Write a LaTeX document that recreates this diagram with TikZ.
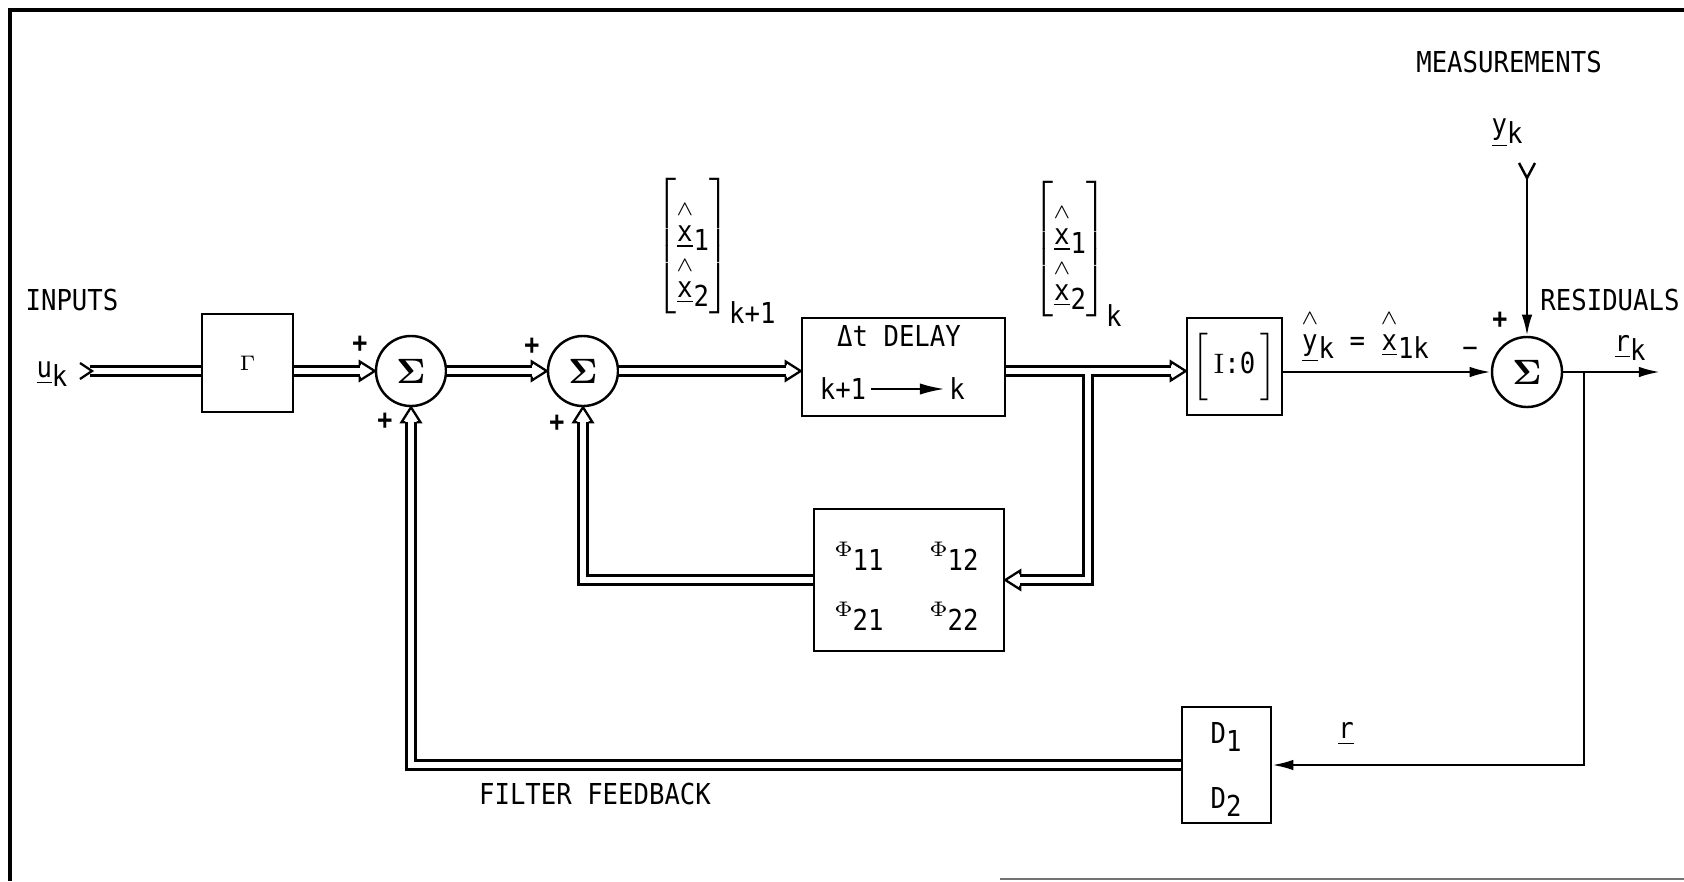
\documentclass[tikz,border=0pt]{standalone}
\usepackage{amsmath}
\usepackage[no-math]{fontspec}
\setmainfont{DejaVu Sans Mono}[FakeStretch=0.89]
\usetikzlibrary{arrows.meta,calc}
\newcommand\lo[1]{\raisebox{-0.55ex}{#1}}
\newcommand\hx[1]{$\overset{\raisebox{1.2pt}{$\scriptstyle\wedge$}}{\underline{\mbox{#1}}}$}
\newcommand\phisym{\raisebox{0.9ex}{\fontsize{6}{6}\selectfont$\Phi$}}
\newcommand\xvec{\lower2.3pt\hbox{$\begin{array}{@{}c@{}}\text{\hx{x}\lo{1}}\\[1.4pt]\text{\hx{x}\lo{2}}\end{array}$}}
\tikzset{
  blk/.style={draw, rectangle, inner sep=0pt},
  sumn/.style={draw, circle, minimum size=0.70cm, inner sep=0pt, font=\fontsize{10}{10}\selectfont},
  dbl/.style={double, double distance=1.9pt, line width=0.65pt, shorten >=0.15cm},
  sgl/.style={-{Latex[length=6pt,width=3pt]}},
  lbl/.style={inner sep=0pt},
  sgn/.style={inner sep=0pt, font=\fontsize{8}{8}\selectfont\bfseries},
  dhead/.pic={\draw[line width=0.65pt, line join=miter] (-15,-5.6) -- (-15,-9.5) -- (0,0) -- (-15,9.5) -- (-15,5.6);}
}
\begin{document}
\begin{tikzpicture}[x=0.01cm, y=-0.01cm, line width=0.7pt, font=\fontsize{8.2}{9.6}\selectfont]
\useasboundingbox (0,0) rectangle (1684,881);
% frame
\draw[line width=0.9pt] (1684,10) -- (10,10) -- (10,881);
\draw[line width=0.7pt, black!55] (1000,879) -- (1684,879);

% blocks
\node[blk, minimum width=0.91cm, minimum height=0.98cm] (gam) at (247.5,363) {\fontsize{6.5}{7}\selectfont$\Gamma$};
\node[sumn] (s1) at (411,371) {$\mathbf{\Sigma}$};
\node[sumn] (s2) at (583,371) {$\mathbf{\Sigma}$};
\node[blk, minimum width=2.03cm, minimum height=0.98cm] (dly) at (903.5,367) {};
\node[lbl] (dtxt) at (899,336) {Δt DELAY};
\node[lbl, inner sep=1pt] (kp1) at (843,389) {k+1};
\node[lbl, inner sep=1pt] (kk) at (957,389) {k};
\draw[-{Latex[length=7pt,width=3.2pt]}, line width=0.6pt] (kp1.east) -- (kk.west);
\node[blk, minimum width=1.90cm, minimum height=1.42cm] (phi) at (909,580) {};
\node[lbl] (p11) at (859,556) {\phisym 11};
\node[lbl] (p12) at (954,556) {\phisym 12};
\node[lbl] (p21) at (859,616) {\phisym 21};
\node[lbl] (p22) at (954,616) {\phisym 22};
\node[blk, minimum width=0.95cm, minimum height=0.97cm] (io) at (1234.5,366.5)
  {$\left[\vrule height 10.5pt depth 7.5pt width 0pt\,\text{$\mathrm{I}$:0}\,\right]$};
\node[sumn] (s3) at (1527,372) {$\mathbf{\Sigma}$};
\node[blk, minimum width=0.89cm, minimum height=1.16cm] (D) at (1226.5,765) {};
\node[lbl] (d1) at (1226,737) {D\lo{1}};
\node[lbl] (d2) at (1226,802) {D\lo{2}};

% vectors
\node[lbl, anchor=base west] (v1) at (655,253)
  {$\left[\vrule height 21.3pt depth 17.7pt width 0pt\xvec\right]$\raisebox{-20pt}{k+1}};
\node[lbl, anchor=base west] (v2) at (1032,256)
  {$\left[\vrule height 21.3pt depth 17.7pt width 0pt\xvec\right]$\raisebox{-20pt}{k}};

% labels
\node[lbl] (inp) at (72,300) {INPUTS};
\node[lbl] (uk) at (52,374) {\underline{u}\lo{k}};
\node[lbl] (meas) at (1509,62) {MEASUREMENTS};
\node[lbl] (yk) at (1507,133) {\underline{y}\lo{k}};
\node[lbl] (res) at (1610,300) {RESIDUALS};
\node[lbl] (rk) at (1630,348) {\underline{r}\lo{k}};
\node[lbl] (yhat) at (1365,336) {\hx{y}\lo{k} = \hx{x}\lo{1}\lo{k}};
\node[lbl] (rl) at (1346,734) {\underline{r}};
\node[lbl] (ff) at (595,794) {FILTER FEEDBACK};
\node[sgn] (pa) at (360,344) {+};
\node[sgn] (pb) at (385,421) {+};
\node[sgn] (pc) at (532,346) {+};
\node[sgn] (pd) at (557,423) {+};
\node[sgn] (pe) at (1500,320) {+};
\node[lbl] (me) at (1470,352) {−};

% input
\coordinate (uin) at (90,371);
\draw[double, double distance=1.9pt, line width=0.65pt] (uin) -- (gam.west |- uin);
\draw[line width=0.65pt] ($(uin)+(-10,-8)$) -- ($(uin)+(2,0)$) -- ($(uin)+(-10,8)$);

% double-line connectors
\draw[dbl] (gam.east |- s1.west) -- (s1.west);
\pic at (s1.west) {dhead};
\draw[dbl] (s1.east) -- (s2.west);
\pic at (s2.west) {dhead};
\draw[dbl] (s2.east) -- (dly.west |- s2.east);
\pic at (dly.west |- s2.east) {dhead};
\draw[dbl] (dly.east |- s2.east) -- (io.west |- s2.east);
\pic at (io.west |- s2.east) {dhead};
\coordinate (bx) at (1088,374.4);
\draw[dbl] (bx) |- (phi.east);
\pic[rotate=180] at (phi.east) {dhead};
\draw[dbl] (phi.west) -| (s2.south);
\pic[rotate=90] at (s2.south) {dhead};
\draw[dbl] (D.west) -| (s1.south);
\pic[rotate=90] at (s1.south) {dhead};

% single-line connectors
\draw[sgl] (io.east |- s3.west) -- (s3.west);
\coordinate (yt) at (1527,178);
\draw[sgl] (yt) -- (s3.north);
\draw ($(yt)+(-8,-15)$) -- (yt) -- ($(yt)+(8,-15)$);
\coordinate (rout) at (1660,372);
\draw[sgl] (s3.east) -- (rout);
\coordinate (rb) at (1584,372);
\draw[sgl] (rb) |- (D.east);
\end{tikzpicture}
\end{document}
